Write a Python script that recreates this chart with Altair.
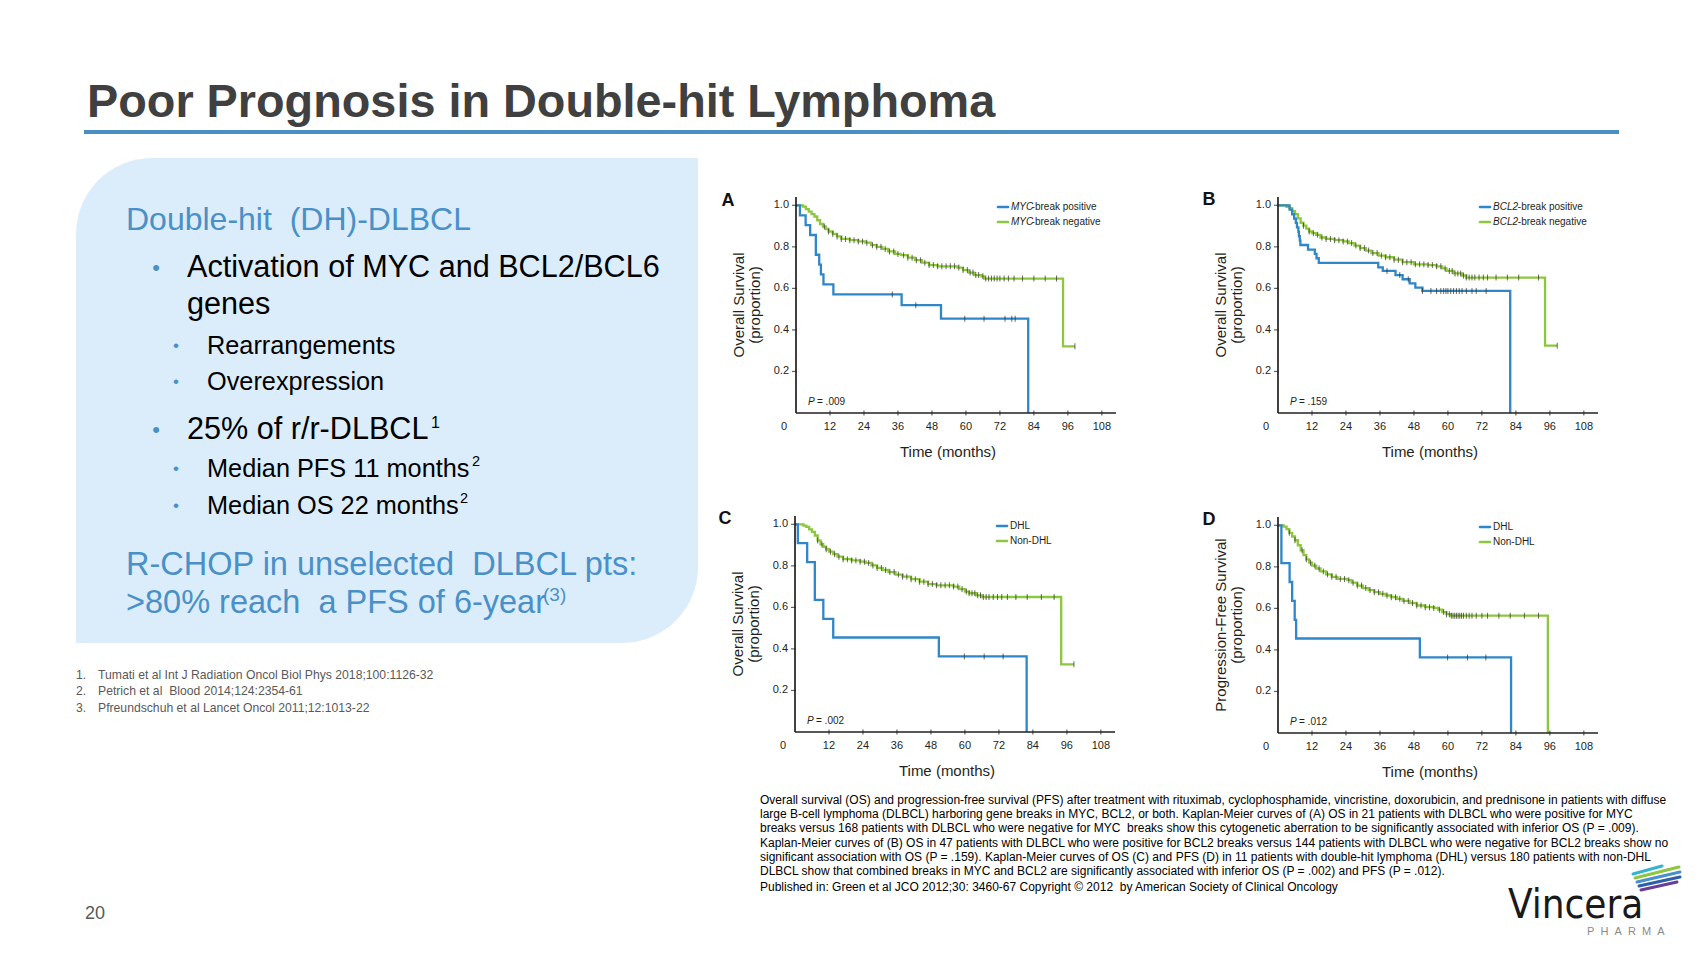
import altair as alt
import pandas as pd

# ---------------- slide text ----------------
TITLE = "Poor Prognosis in Double-hit Lymphoma"
BOX_HEAD = "Double-hit \u00a0(DH)-DLBCL"
BULLET1 = ["Activation of MYC and BCL2/BCL6", "genes"]
SUB1 = ["Rearrangements", "Overexpression"]
BULLET2 = "25% of r/r-DLBCL"
SUB2 = ["Median PFS 11 months", "Median OS 22 months"]
RCHOP = ["R-CHOP in unselected \u00a0DLBCL pts:", ">80% reach \u00a0a PFS of 6-year"]
SUPERS = ["1", "2", "2", "(3)"]
REF_NUMS = ["1.", "2.", "3."]
REFS = ["Tumati et al Int J Radiation Oncol Biol Phys 2018;100:1126-32",
        "Petrich et al \u00a0Blood 2014;124:2354-61",
        "Pfreundschuh et al Lancet Oncol 2011;12:1013-22"]
CAPTION = [
    "Overall survival (OS) and progression-free survival (PFS) after treatment with rituximab, cyclophosphamide, vincristine, doxorubicin, and prednisone in patients with diffuse",
    "large B-cell lymphoma (DLBCL) harboring gene breaks in MYC, BCL2, or both. Kaplan-Meier curves of (A) OS in 21 patients with DLBCL who were positive for MYC",
    "breaks versus 168 patients with DLBCL who were negative for MYC \u00a0breaks show this cytogenetic aberration to be significantly associated with inferior OS (P = .009).",
    "Kaplan-Meier curves of (B) OS in 47 patients with DLBCL who were positive for BCL2 breaks versus 144 patients with DLBCL who were negative for BCL2 breaks show no",
    "significant association with OS (P = .159). Kaplan-Meier curves of OS (C) and PFS (D) in 11 patients with double-hit lymphoma (DHL) versus 180 patients with non-DHL",
    "DLBCL show that combined breaks in MYC and BCL2 are significantly associated with inferior OS (P = .002) and PFS (P = .012).",
]
PUBLISHED = "Published in: Green et al JCO 2012;30: 3460-67 Copyright \u00a9 2012 \u00a0by American Society of Clinical Oncology"
PAGE_NO = "20"
LOGO = "Vincera"
LOGO_SUB = "PHARMA"

# ---------------- Kaplan-Meier data (months, proportion) ----------------
X_TICKS = [12, 24, 36, 48, 60, 72, 84, 96, 108]
Y_TICKS = [0.2, 0.4, 0.6, 0.8, 1.0]
X_TITLE = "Time (months)"

# A: MYC-break
A_POS_T = [0, 1.4, 3.4, 5.0, 7.0, 8.2, 8.8, 9.7, 13.2, 37.3, 51.2, 82.0]
A_POS_S = [1.0, 0.952, 0.905, 0.857, 0.762, 0.714, 0.667, 0.619, 0.571, 0.519, 0.454, 0.0]
A_POS_C = [34.0, 42.3, 59.6, 66.4, 73.8, 76.2, 77.4]
A_NEG_T = [0, 2.5, 3.5, 4.5, 5.5, 6.5, 7.5, 8.5, 9.5, 10.5, 11.5, 13, 14.5, 16, 19, 22, 24.5, 26.5, 28.5,
           30.5, 32.5, 35, 37, 39.5, 42, 44.5, 47, 50, 55, 57, 59, 61, 63, 65.5, 66.5, 94.3, 98.5]
A_NEG_S = [1.0, 0.994, 0.982, 0.97, 0.958, 0.946, 0.928, 0.91, 0.898, 0.886, 0.874, 0.862, 0.85, 0.838,
           0.832, 0.826, 0.82, 0.808, 0.80, 0.79, 0.778, 0.766, 0.76, 0.748, 0.736, 0.724, 0.712, 0.706,
           0.706, 0.70, 0.688, 0.676, 0.664, 0.658, 0.647, 0.321, 0.321]
A_NEG_C = [10, 11.5, 13, 14.5, 16, 17.5, 19, 20.5, 22, 23.5, 25, 27, 28.5, 30, 31.5, 33, 34.5, 36, 38, 39.5,
           41, 42.5, 44, 45.5, 47, 48.5, 50, 51.5, 53, 54.5, 56, 57.5, 59, 60.5, 61.5, 62.5, 63.5, 64.5, 66,
           67, 68, 69, 70, 71, 72, 73.5, 75, 77, 80, 84, 88, 92, 98.5]

# B: BCL2-break
B_POS_T = [0, 4.1, 5.0, 5.7, 6.3, 6.7, 7.2, 7.4, 7.7, 7.9, 10.6, 13.0, 13.6, 14.4, 35.4, 37.0, 41.5,
           44.0, 46.5, 48.5, 51.0, 82.0]
B_POS_S = [1.0, 0.979, 0.957, 0.936, 0.915, 0.894, 0.872, 0.851, 0.83, 0.809, 0.787, 0.766, 0.745,
           0.723, 0.701, 0.684, 0.664, 0.644, 0.624, 0.604, 0.588, 0.0]
B_POS_C = [38.5, 43, 46, 51, 54, 56, 57.5, 58.5, 59.3, 60, 61, 62, 63, 64, 65, 66.5, 68.5, 70, 73.5]
B_NEG_T = [0, 3, 4, 5, 6, 7, 8, 9, 10, 11, 12, 13.5, 15, 17, 20, 23, 25, 27, 29, 31, 33, 35.5, 38, 41,
           44, 48, 53, 56, 58, 59.5, 62, 65, 66.5, 94.3, 98.6]
B_NEG_S = [1.0, 0.993, 0.986, 0.972, 0.958, 0.937, 0.916, 0.902, 0.888, 0.874, 0.866, 0.858, 0.845,
           0.838, 0.832, 0.826, 0.818, 0.806, 0.794, 0.782, 0.77, 0.758, 0.75, 0.738, 0.726, 0.716, 0.712,
           0.706, 0.696, 0.684, 0.672, 0.662, 0.652, 0.324, 0.324]
B_NEG_C = [9, 11, 12.5, 14, 15.5, 17, 18.5, 20, 21.5, 23, 24.5, 26, 27.5, 29, 30.5, 32, 33.5, 35, 36.5,
           38, 39.5, 41, 42.5, 44, 45.5, 47, 48.5, 50, 51.5, 53, 54.5, 56, 57.5, 59, 60.5, 61.5, 62.5,
           63.5, 64.5, 65.5, 66.5, 67.5, 68.5, 69.5, 71, 72.5, 74, 77, 81, 85, 92, 98.6]

# C: OS, DHL vs non-DHL
C_POS_T = [0, 1.0, 4.3, 7.0, 10.0, 13.5, 50.8, 81.8]
C_POS_S = [1.0, 0.909, 0.818, 0.636, 0.545, 0.455, 0.364, 0.0]
C_POS_C = [59.8, 66.8, 73.5]
C_NEG_T = [0, 3, 4, 5, 6, 7, 8, 9, 10, 11, 12, 13.5, 15, 17, 20, 23, 25, 27, 29, 31, 33, 35.5, 38, 41,
           44, 47, 50, 54, 56, 58, 60, 61.5, 64, 66, 94, 98.5]
C_NEG_S = [1.0, 0.994, 0.988, 0.976, 0.964, 0.946, 0.922, 0.904, 0.892, 0.88, 0.868, 0.856, 0.844,
           0.832, 0.826, 0.82, 0.814, 0.802, 0.79, 0.78, 0.77, 0.758, 0.748, 0.736, 0.724, 0.712, 0.706,
           0.706, 0.70, 0.688, 0.676, 0.668, 0.658, 0.65, 0.326, 0.326]
C_NEG_C = [8, 9.5, 11, 12.5, 14, 15.5, 17, 18.5, 20, 21.5, 23, 24.5, 26, 27.5, 29, 30.5, 32, 33.5, 35,
           36.5, 38, 39.5, 41, 42.5, 44, 45.5, 47, 48.5, 50, 51.5, 53, 54.5, 56, 57.5, 59, 60.5, 61.5,
           62.5, 63.5, 64.5, 65.5, 66.5, 67.5, 68.5, 70, 71.5, 73, 75, 78, 82, 87, 91.5, 98.5]

# D: PFS, DHL vs non-DHL
D_POS_T = [0, 1.2, 4.1, 5.0, 5.9, 6.4, 50.1, 82.3]
D_POS_S = [1.0, 0.818, 0.727, 0.636, 0.545, 0.455, 0.364, 0.0]
D_POS_C = [59.9, 66.9, 73.4]
D_NEG_T = [0, 2, 3, 4, 5, 6, 7, 8, 9, 10, 11, 12, 13.5, 15, 17, 19, 21, 24.5, 26, 28, 30, 32, 34, 36,
           38, 40, 42, 44, 46.5, 49, 52, 55, 56.5, 58, 59.5, 61, 95.3]
D_NEG_S = [1.0, 0.994, 0.982, 0.964, 0.946, 0.928, 0.904, 0.88, 0.856, 0.836, 0.82, 0.806, 0.792,
           0.778, 0.764, 0.752, 0.742, 0.736, 0.724, 0.71, 0.698, 0.688, 0.678, 0.67, 0.662, 0.654, 0.646,
           0.636, 0.626, 0.614, 0.606, 0.602, 0.594, 0.582, 0.572, 0.565, 0.0]
D_NEG_C = [4, 6, 8.5, 10, 11.5, 13, 14.5, 16, 17.5, 19, 20.5, 22, 23.5, 25, 26.5, 28, 29.5, 31, 32.5, 34,
           35.5, 37, 38.5, 40, 41.5, 43, 44.5, 46, 47.5, 49, 50.5, 52, 53.5, 55, 57, 58.5, 59.5, 60.5, 61.2,
           61.8, 62.4, 63, 63.6, 64.2, 64.8, 65.5, 66.5, 67.5, 68.5, 70, 72, 74, 78, 82, 87, 92]

PANELS = [
    dict(letter="A", t=(A_POS_T, A_POS_S, A_POS_C, A_NEG_T, A_NEG_S, A_NEG_C),
         leg=(("MYC", "-break positive"), ("MYC", "-break negative")),
         ytitle="Overall Survival\n(proportion)", p=".009"),
    dict(letter="B", t=(B_POS_T, B_POS_S, B_POS_C, B_NEG_T, B_NEG_S, B_NEG_C),
         leg=(("BCL2", "-break positive"), ("BCL2", "-break negative")),
         ytitle="Overall Survival\n(proportion)", p=".159"),
    dict(letter="C", t=(C_POS_T, C_POS_S, C_POS_C, C_NEG_T, C_NEG_S, C_NEG_C),
         leg=(("", "DHL"), ("", "Non-DHL")),
         ytitle="Overall Survival\n(proportion)", p=".002"),
    dict(letter="D", t=(D_POS_T, D_POS_S, D_POS_C, D_NEG_T, D_NEG_S, D_NEG_C),
         leg=(("", "DHL"), ("", "Non-DHL")),
         ytitle="Progression-Free Survival\n(proportion)", p=".012"),
]

# ---------------- layout / style ----------------
W, H, M = 1688, 936, 8
FONT = "Liberation Sans, Arial, sans-serif"
COND = "DejaVu Sans Condensed, Liberation Sans, sans-serif"
INK = "#231f20"
KM_BLUE, KM_GREEN = "#2f86c8", "#8dc63f"
SLIDE_BLUE = "#4a90c8"
ORIGINS = {"A": (796, 413), "B": (1278, 413), "C": (795, 732), "D": (1278, 733)}
LETTER_POS = {"A": (728, 201), "B": (1209, 200), "C": (725, 519), "D": (1209, 520)}
X_MAX, Y_MAX, PX_W, PX_H = 113, 1.04, 320, 216


def txt(s, x, y, size, color="#000000", weight="normal", style="normal", font=FONT,
        align="left", baseline="middle", **kw):
    return alt.Chart(pd.DataFrame({"s": [s]})).mark_text(
        align=align, baseline=baseline, font=font, fontSize=size, fontWeight=weight,
        fontStyle=style, color=color, **kw
    ).encode(x=alt.value(x - M), y=alt.value(y - M), text="s:N")


def rule(x1, y1, x2, y2, color, width):
    return alt.Chart(pd.DataFrame({"a": [0]})).mark_rule(
        color=color, strokeWidth=width, strokeCap="round"
    ).encode(x=alt.value(x1 - M), y=alt.value(y1 - M), x2=alt.value(x2 - M), y2=alt.value(y2 - M))


def rect(x1, y1, x2, y2, color, **kw):
    return alt.Chart(pd.DataFrame({"a": [0]})).mark_rect(color=color, **kw).encode(
        x=alt.value(x1 - M), y=alt.value(y1 - M), x2=alt.value(x2 - M), y2=alt.value(y2 - M))


def censor_df(ct, t, s, g):
    steps = pd.DataFrame({"t": pd.Series(t, dtype=float), "s": s}).sort_values("t")
    c = pd.DataFrame({"t": pd.Series(sorted(ct), dtype=float)})
    m = pd.merge_asof(c, steps, on="t", direction="backward")
    m["g"] = g
    return m


def panel(p):
    ox, oy = ORIGINS[p["letter"]]
    pt, ps, pc, nt, ns, nc = p["t"]
    xs = alt.Scale(domain=[0, X_MAX], range=[ox - M, ox - M + PX_W], nice=False, zero=False)
    ys = alt.Scale(domain=[0, Y_MAX], range=[oy - M, oy - M - PX_H], nice=False, zero=False)
    cs = alt.Scale(domain=["neg", "pos"], range=[KM_GREEN, KM_BLUE])

    def X(f):
        return alt.X(f, scale=xs, axis=None)

    def Y(f):
        return alt.Y(f, scale=ys, axis=None)

    curves = pd.concat([pd.DataFrame({"t": nt, "s": ns, "g": "neg"}),
                        pd.DataFrame({"t": pt, "s": ps, "g": "pos"})], ignore_index=True)
    cens = pd.concat([censor_df(nc, nt, ns, "neg"), censor_df(pc, pt, ps, "pos")], ignore_index=True)

    # axes drawn from the panel scales
    dom_x = alt.Chart(pd.DataFrame({"t0": [0.0], "t1": [float(X_MAX)], "s": [0.0]})).mark_rule(
        color=INK, strokeWidth=1.7).encode(x=X("t0:Q"), x2="t1:Q", y=Y("s:Q"))
    dom_y = alt.Chart(pd.DataFrame({"t": [0.0], "s0": [0.0], "s1": [Y_MAX]})).mark_rule(
        color=INK, strokeWidth=1.7).encode(x=X("t:Q"), y=Y("s0:Q"), y2="s1:Q")
    xt = pd.DataFrame({"t": [float(v) for v in X_TICKS], "s": 0.0, "l": [str(v) for v in X_TICKS]})
    yt = pd.DataFrame({"t": 0.0, "s": Y_TICKS, "l": [f"{v:.1f}" for v in Y_TICKS]})
    x_tick = alt.Chart(xt).mark_tick(orient="vertical", size=5, thickness=1.2, color=INK).encode(
        x=X("t:Q"), y=Y("s:Q"))
    x_lab = alt.Chart(xt).mark_text(dy=14, font=FONT, fontSize=11, color=INK).encode(
        x=X("t:Q"), y=Y("s:Q"), text="l:N")
    y_tick = alt.Chart(yt).mark_tick(orient="horizontal", size=5, thickness=1.2, color=INK,
                                     xOffset=-1.5).encode(x=X("t:Q"), y=Y("s:Q"))
    y_lab = alt.Chart(yt).mark_text(dx=-7, align="right", font=FONT, fontSize=11, color=INK).encode(
        x=X("t:Q"), y=Y("s:Q"), text="l:N")
    zero = alt.Chart(pd.DataFrame({"t": [0.0], "s": [0.0], "l": ["0"]})).mark_text(
        dx=-12, dy=14, font=FONT, fontSize=11, color=INK).encode(x=X("t:Q"), y=Y("s:Q"), text="l:N")

    lines = alt.Chart(curves).mark_line(interpolate="step-after", strokeWidth=2.3).encode(
        x=X("t:Q"), y=Y("s:Q"), color=alt.Color("g:N", scale=cs, legend=None))
    ticks = alt.Chart(cens).mark_tick(orient="vertical", size=6, thickness=1, color="#2b2b20").encode(
        x=X("t:Q"), y=Y("s:Q"))

    layers = [lines, ticks, dom_x, dom_y, x_tick, x_lab, y_tick, y_lab, zero]
    layers.append(txt(X_TITLE, ox + 152, oy + 39, 15, INK, align="center"))
    layers.append(txt(p["ytitle"], ox - 57, oy - 108, 15, INK, align="center", angle=270,
                      lineBreak="\n", lineHeight=16))
    # legend
    for i, ((ital, rest), col) in enumerate(zip(p["leg"], [KM_BLUE, KM_GREEN])):
        ly = oy - 206 + 15 * i
        layers.append(rule(ox + 202, ly, ox + 212, ly, col, 2.6))
        xx = ox + 215
        if ital:
            layers.append(txt(ital, xx, ly, 10, INK, style="italic"))
            xx += 6.2 * len(ital) + (2 if ital == "MYC" else 0)
        layers.append(txt(rest, xx, ly, 10, INK))
    # P value
    layers.append(txt("P", ox + 12, oy - 11, 10, INK, style="italic"))
    layers.append(txt("= " + p["p"], ox + 21, oy - 11, 10, INK))
    lx, ly = LETTER_POS[p["letter"]]
    layers.append(txt(p["letter"], lx, ly, 18, "#111111", weight="bold", align="center"))
    return alt.layer(*layers)


bg = []
# title + blue rule
bg.append(txt(TITLE, 87, 117, 46.8, "#404040", weight="bold", baseline="alphabetic"))
bg.append(rect(84, 130, 1619, 134, "#4a8fc1"))
# left box
bg.append(rect(76, 158, 698, 643, "#dbedfb", cornerRadiusTopLeft=76, cornerRadiusBottomRight=76))
bg.append(txt(BOX_HEAD, 126, 220, 32, SLIDE_BLUE))
bg.append(txt("\u2022", 156, 268, 22, SLIDE_BLUE, align="center"))
bg.append(txt(BULLET1[0], 187, 268, 30.6))
bg.append(txt(BULLET1[1], 187, 305, 30.6))
for s, y in zip(SUB1, [346, 382]):
    bg.append(txt("\u2022", 176, y, 17, SLIDE_BLUE, align="center"))
    bg.append(txt(s, 207, y, 25.3))
bg.append(txt("\u2022", 156, 430, 22, SLIDE_BLUE, align="center"))
bg.append(txt(BULLET2, 187, 430, 30.6))
bg.append(txt(SUPERS[0], 431, 423, 16))
for s, y in zip(SUB2, [469, 506]):
    bg.append(txt("\u2022", 176, y, 17, SLIDE_BLUE, align="center"))
    bg.append(txt(s, 207, y, 25.3))
bg.append(txt(SUPERS[1], 472, 462, 14.5))
bg.append(txt(SUPERS[2], 460, 499, 14.5))
bg.append(txt(RCHOP[0], 126, 565, 32.5, SLIDE_BLUE))
bg.append(txt(RCHOP[1], 126, 603, 32.5, SLIDE_BLUE))
bg.append(txt(SUPERS[3], 543, 595, 19, SLIDE_BLUE))
# references
for n, r, y in zip(REF_NUMS, REFS, [675, 691, 708]):
    bg.append(txt(n, 76, y, 12.2, "#595959"))
    bg.append(txt(r, 98, y, 12.2, "#595959"))
# caption
for line, y in zip(CAPTION, [800, 814, 828, 843, 857, 871]):
    bg.append(txt(line, 760, y, 12.0, "#000000"))
bg.append(txt(PUBLISHED, 760, 887, 12.0, "#000000"))
# page number
bg.append(txt(PAGE_NO, 85, 914, 18, "#595959"))
# logo
bg.append(txt(LOGO, 1508, 918, 40, "#1a1a1a", font=COND, baseline="alphabetic"))
bg.append(txt("\u00a0\u00a0".join(LOGO_SUB), 1587, 932, 11, "#8a8a8a"))
for (x1, y1, x2, y2, c) in [(1633, 874, 1662, 866, "#36b3d0"), (1635, 878, 1679, 867, "#8dc63f"),
                            (1637, 882, 1680, 872, "#4a90d0"), (1639, 886, 1680, 877, "#2f5ea8"),
                            (1641, 890, 1677, 882, "#6a3d98")]:
    bg.append(rule(x1, y1, x2, y2, c, 3))

chart = alt.layer(*bg, *[panel(p) for p in PANELS]).resolve_scale(
    x="independent", y="independent", color="independent"
).properties(
    width=W, height=H, autosize=alt.AutoSizeParams(type="none"), padding=0
).configure_view(stroke=None)

chart.save("out.html", embed_options={"renderer": "svg", "actions": False})
